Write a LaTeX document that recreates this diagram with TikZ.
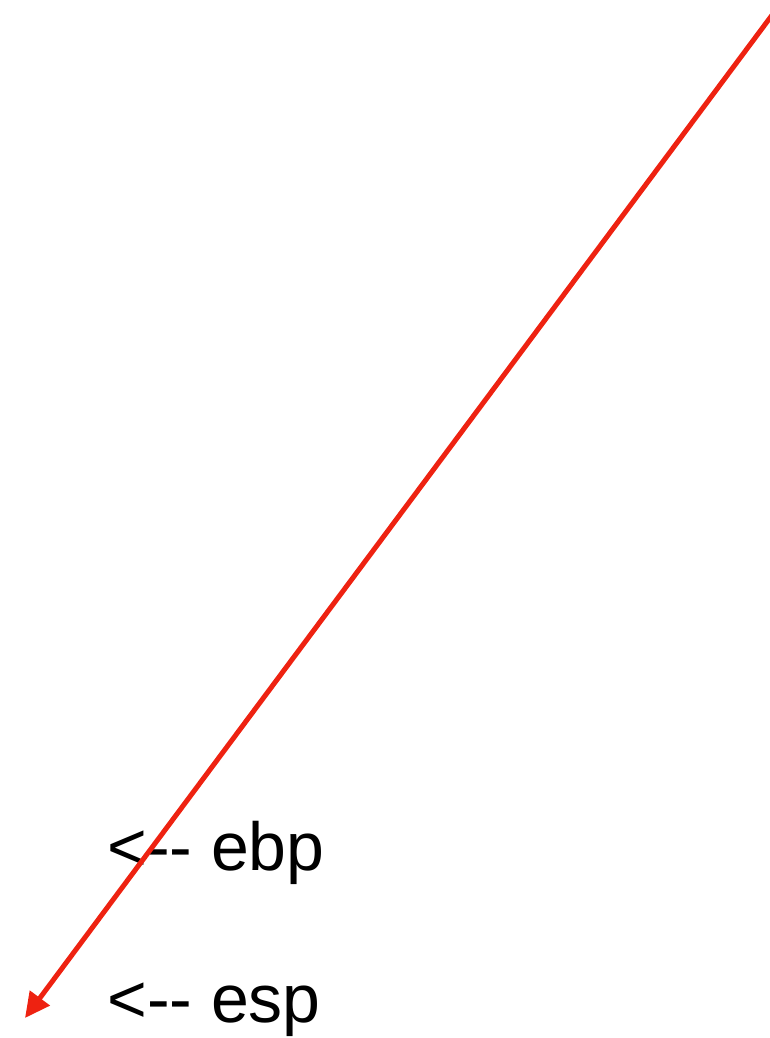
\documentclass[tikz,border=0pt]{standalone}
\usepackage{fontspec}
\setmainfont{Liberation Sans}
\usetikzlibrary{arrows.meta}
\definecolor{arrowred}{HTML}{EE2211}

\begin{document}
\begin{tikzpicture}[
    x=0.02cm, y=-0.02cm,
    every node/.style={font=\fontsize{38.7}{46}\selectfont, inner sep=0pt},
    regLabel/.style={anchor=base west},
    ptrArrow/.style={-{Triangle[length=0.5cm, width=0.48cm]}, line width=0.1cm, draw=arrowred}
]
    % Area del disegno
    \useasboundingbox (0,0) rectangle (770,1038);

    % Registri
    \node[regLabel] (ebp) at (107, 870) {<{-}{-} ebp};
    \node[regLabel] (esp) at (107, 1022) {<{-}{-} esp};

    % Freccia
    \coordinate (top) at (790, -9);
    \coordinate (tip) at (25, 1018);
    \draw[ptrArrow] (top) -- (tip);
\end{tikzpicture}
\end{document}
